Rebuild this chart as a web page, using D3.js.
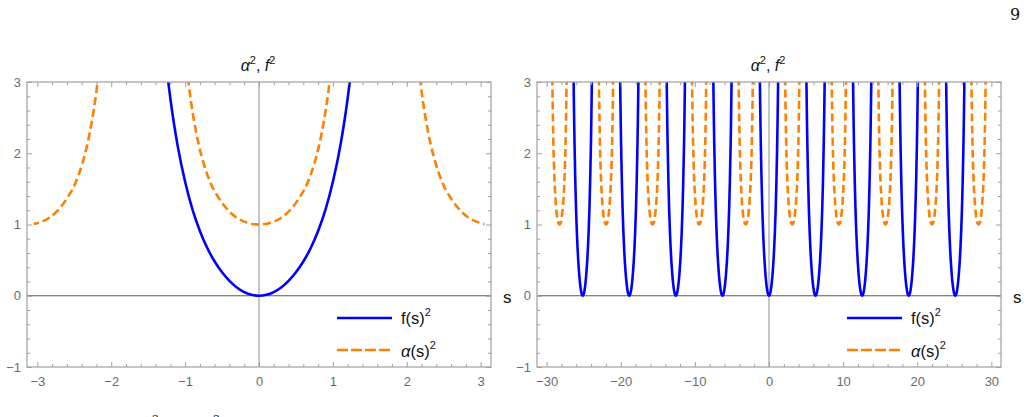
<!DOCTYPE html>
<html>
<head>
<meta charset="utf-8">
<script src="https://cdn.jsdelivr.net/npm/d3@7"></script>
<style>
  body { margin: 0; background: #fff; }
  svg { display: block; }
  .tick text { font-family: "Liberation Sans", Arial, sans-serif; font-size: 13px; fill: #6b6b6b; }
  .frame path.domain { stroke: none; }
  .frame .tick line { stroke: #a0a0a0; }
</style>
</head>
<body>
<svg id="chart" width="1027" height="417"></svg>
<script>
// one well of f(s)^2 (offset from well centre, value)
const blueWellS = [-1.3, -1.25, -1.2, -1.15, -1.1, -1.0, -0.9, -0.8, -0.7, -0.6, -0.5, -0.4, -0.3, -0.2, -0.1, 0,
  0.1, 0.2, 0.3, 0.4, 0.5, 0.6, 0.7, 0.8, 0.9, 1.0, 1.1, 1.15, 1.2, 1.25, 1.3];
const blueWellV = [3.64, 3.18, 2.77, 2.41, 2.10, 1.60, 1.21, 0.91, 0.67, 0.48, 0.33, 0.21, 0.117, 0.052, 0.013, 0,
  0.013, 0.052, 0.117, 0.21, 0.33, 0.48, 0.67, 0.91, 1.21, 1.60, 2.10, 2.41, 2.77, 3.18, 3.64];

// one well of alpha(s)^2
const orangeWellS = [-1.0, -0.955, -0.92, -0.88, -0.82, -0.75, -0.65, -0.55, -0.4, -0.2, 0, 0.2, 0.4, 0.55, 0.65, 0.75, 0.82, 0.88, 0.92, 0.955, 1.0];
const orangeWellV = [3.4, 3.0, 2.72, 2.46, 2.14, 1.86, 1.57, 1.38, 1.18, 1.04, 1.0, 1.04, 1.18, 1.38, 1.57, 1.86, 2.14, 2.46, 2.72, 3.0, 3.4];

// where the wells sit
const leftBlueCentres = [0];
const leftOrangeCentres = [-3.14, 0, 3.14];
const rightBlueCentres = [-25.13, -18.85, -12.57, -6.28, 0, 6.28, 12.57, 18.85, 25.13];
const rightOrangeCentres = [-28.27, -21.99, -15.71, -9.42, -3.14, 3.14, 9.42, 15.71, 21.99, 28.27];

// plotted s-range and frame range
const leftPlotRange = [-3.05, 3.05];
const leftFrame = [-3.14, 3.14];
const rightPlotRange = [-30, 30];
const rightFrame = [-31.3, 31.3];

const yTicks = [-1, 0, 1, 2, 3];
const yMinor = [-0.8, -0.6, -0.4, -0.2, 0.2, 0.4, 0.6, 0.8, 1.2, 1.4, 1.6, 1.8, 2.2, 2.4, 2.6, 2.8];
const leftXTicks = [-3, -2, -1, 0, 1, 2, 3];
const leftXMinor = [-2.8, -2.6, -2.4, -2.2, -1.8, -1.6, -1.4, -1.2, -0.8, -0.6, -0.4, -0.2,
  0.2, 0.4, 0.6, 0.8, 1.2, 1.4, 1.6, 1.8, 2.2, 2.4, 2.6, 2.8];
const rightXTicks = [-30, -20, -10, 0, 10, 20, 30];
const rightXMinor = [-28, -26, -24, -22, -18, -16, -14, -12, -8, -6, -4, -2,
  2, 4, 6, 8, 12, 14, 16, 18, 22, 24, 26, 28];

const BLUE = "#0000ff";
const ORANGE = "#ff8000";
const FONT = "Liberation Sans, Arial, sans-serif";

const svg = d3.select("#chart");

function fmt(d) {
  return d < 0 ? "\u2212" + Math.abs(d) : String(d);
}

function wells(centres, ws, wv) {
  return centres.map(c => ws.map((d, i) => ({ s: c + d, v: wv[i] })));
}

function panel(opts) {
  const x = d3.scaleLinear().domain(opts.frame).range([opts.left, opts.right]);
  const y = d3.scaleLinear().domain([-1, 3]).range([367, 82]);
  const g = svg.append("g");

  // axes through origin
  g.append("line").attr("x1", x.range()[0]).attr("x2", x.range()[1])
    .attr("y1", y(0)).attr("y2", y(0)).attr("stroke", "#5a5a5a").attr("stroke-width", 1);
  g.append("line").attr("x1", x(0)).attr("x2", x(0))
    .attr("y1", y(-1)).attr("y2", y(3)).attr("stroke", "#a0a0a0").attr("stroke-width", 1.2);

  // curves, clipped to plotted range
  const clipId = "clip" + opts.id;
  svg.append("clipPath").attr("id", clipId).append("rect")
    .attr("x", x(opts.plot[0])).attr("y", y(3))
    .attr("width", x(opts.plot[1]) - x(opts.plot[0])).attr("height", y(-1) - y(3));

  const line = d3.line().x(d => x(d.s)).y(d => y(d.v)).curve(d3.curveMonotoneX);
  const cg = g.append("g").attr("clip-path", `url(#${clipId})`);

  cg.selectAll("path.blue")
    .data(wells(opts.blue, blueWellS, blueWellV))
    .enter().append("path").attr("class", "blue")
    .attr("d", line).attr("fill", "none")
    .attr("stroke", BLUE).attr("stroke-width", 2.6);

  cg.selectAll("path.orange")
    .data(wells(opts.orange, orangeWellS, orangeWellV))
    .enter().append("path").attr("class", "orange")
    .attr("d", line).attr("fill", "none")
    .attr("stroke", ORANGE).attr("stroke-width", 2.6)
    .attr("stroke-dasharray", "8,4");

  // frame + ticks
  const fr = g.append("g").attr("class", "frame");
  fr.append("rect").attr("x", x.range()[0]).attr("y", y(3))
    .attr("width", x.range()[1] - x.range()[0]).attr("height", y(-1) - y(3))
    .attr("fill", "none").attr("stroke", "#a0a0a0").attr("stroke-width", 1.2);

  fr.append("g").attr("transform", `translate(0,${y(-1)})`)
    .call(d3.axisBottom(x).tickValues(opts.xTicks).tickSizeInner(-5).tickSizeOuter(0).tickPadding(10).tickFormat(fmt));
  fr.append("g").attr("transform", `translate(0,${y(-1)})`)
    .call(d3.axisBottom(x).tickValues(opts.xMinor).tickSizeInner(-3).tickSizeOuter(0).tickFormat(""));
  fr.append("g").attr("transform", `translate(0,${y(3)})`)
    .call(d3.axisTop(x).tickValues(opts.xTicks).tickSizeInner(-5).tickSizeOuter(0).tickFormat(""));
  fr.append("g").attr("transform", `translate(0,${y(3)})`)
    .call(d3.axisTop(x).tickValues(opts.xMinor).tickSizeInner(-3).tickSizeOuter(0).tickFormat(""));

  fr.append("g").attr("transform", `translate(${x.range()[0]},0)`)
    .call(d3.axisLeft(y).tickValues(yTicks).tickSizeInner(-5).tickSizeOuter(0).tickPadding(6).tickFormat(fmt));
  fr.append("g").attr("transform", `translate(${x.range()[0]},0)`)
    .call(d3.axisLeft(y).tickValues(yMinor).tickSizeInner(-3).tickSizeOuter(0).tickFormat(""));
  fr.append("g").attr("transform", `translate(${x.range()[1]},0)`)
    .call(d3.axisRight(y).tickValues(yTicks).tickSizeInner(-5).tickSizeOuter(0).tickFormat(""));
  fr.append("g").attr("transform", `translate(${x.range()[1]},0)`)
    .call(d3.axisRight(y).tickValues(yMinor).tickSizeInner(-3).tickSizeOuter(0).tickFormat(""));

  // title
  const t = g.append("text").attr("x", x(0) - 1).attr("y", 71).attr("text-anchor", "middle")
    .attr("font-family", FONT).attr("font-size", 16).attr("fill", "#111");
  t.append("tspan").attr("font-style", "italic").text("\u03b1");
  t.append("tspan").attr("font-size", 11).attr("dy", -7).text("2");
  t.append("tspan").attr("dy", 7).text(", ");
  t.append("tspan").attr("font-style", "italic").text("f");
  t.append("tspan").attr("font-size", 11).attr("dy", -7).text("2");

  // axis label s
  g.append("text").attr("x", opts.right + 12).attr("y", y(0) + 7)
    .attr("font-family", FONT).attr("font-size", 17).attr("fill", "#111").text("s");

  // legend
  const lx = opts.legendX;
  g.append("line").attr("x1", lx).attr("x2", lx + 55).attr("y1", 318).attr("y2", 318)
    .attr("stroke", BLUE).attr("stroke-width", 2.6);
  g.append("line").attr("x1", lx).attr("x2", lx + 55).attr("y1", 350).attr("y2", 350)
    .attr("stroke", ORANGE).attr("stroke-width", 2.6).attr("stroke-dasharray", "11,3");
  const l1 = g.append("text").attr("x", lx + 64).attr("y", 324)
    .attr("font-family", FONT).attr("font-size", 16.5).attr("fill", "#111");
  l1.append("tspan").text("f(s)");
  l1.append("tspan").attr("font-size", 11).attr("dy", -8).text("2");
  const l2 = g.append("text").attr("x", lx + 64).attr("y", 357)
    .attr("font-family", FONT).attr("font-size", 16.5).attr("fill", "#111");
  l2.append("tspan").attr("font-style", "italic").text("\u03b1");
  l2.append("tspan").text("(s)");
  l2.append("tspan").attr("font-size", 11).attr("dy", -8).text("2");
}

panel({ id: "L", frame: leftFrame, plot: leftPlotRange, left: 27, right: 491,
  blue: leftBlueCentres, orange: leftOrangeCentres,
  xTicks: leftXTicks, xMinor: leftXMinor, legendX: 337 });
panel({ id: "R", frame: rightFrame, plot: rightPlotRange, left: 537, right: 1001,
  blue: rightBlueCentres, orange: rightOrangeCentres,
  xTicks: rightXTicks, xMinor: rightXMinor, legendX: 847 });

// page number and caption fragments
svg.append("text").attr("x", 1010).attr("y", 20)
  .attr("font-family", "DejaVu Serif, Liberation Serif, serif").attr("font-size", 16).attr("fill", "#111").text("9");
svg.selectAll("text.cap").data([152, 213]).enter().append("text").attr("class", "cap")
  .attr("x", d => d).attr("y", 423)
  .attr("font-family", "DejaVu Serif, Liberation Serif, serif").attr("font-size", 11).attr("fill", "#111").text("2");
</script>
</body>
</html>
